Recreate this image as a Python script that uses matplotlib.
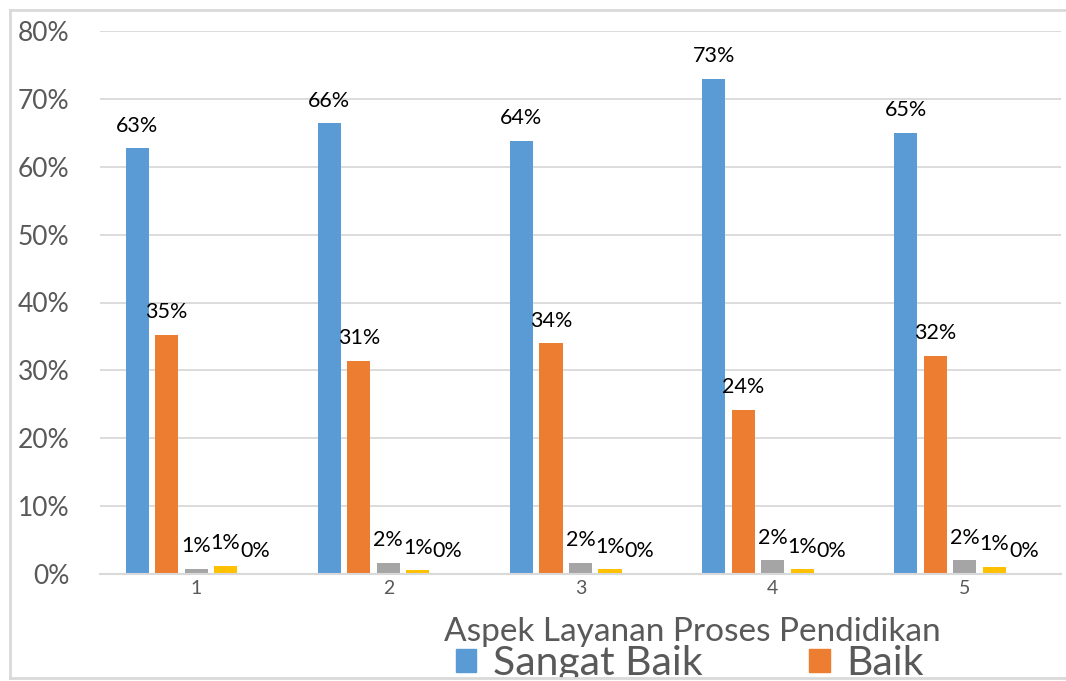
import matplotlib
matplotlib.use("Agg")
import matplotlib.pyplot as plt
from matplotlib.patches import Patch, Rectangle
from matplotlib.lines import Line2D
import numpy as np

plt.rcParams['font.family'] = ['Lato', 'DejaVu Sans']

# data
groups = ['1', '2', '3', '4', '5']
series_names = ['Sangat Baik', 'Baik', 'Cukup Baik', 'Kurang Baik', 'Tidak Baik']
sangat_baik = [0.627, 0.664, 0.638, 0.730, 0.650]
baik = [0.352, 0.314, 0.340, 0.242, 0.321]
cukup = [0.008, 0.016, 0.016, 0.020, 0.020]
kurang = [0.012, 0.0055, 0.007, 0.007, 0.011]
tidak = [0.0, 0.0, 0.0, 0.0, 0.0]
colors = ['#5B9BD5', '#ED7D31', '#A5A5A5', '#FFC000', '#4472C4']

W, H = 1066, 681
fig = plt.figure(figsize=(W / 100, H / 100), dpi=100)
ax = fig.add_axes([100 / W, (H - 574) / H, 961 / W, 543 / H])

x = np.arange(len(groups))
step = 0.1535
width = 0.12
all_series = [sangat_baik, baik, cukup, kurang, tidak]
for k, (vals, c) in enumerate(zip(all_series, colors)):
    pos = x + (k - 2) * step
    ax.bar(pos, vals, width=width, color=c, zorder=2)
    for px, v in zip(pos, vals):
        ax.annotate(f"{v:.0%}", (px, v), xytext=(0, 12), textcoords='offset points',
                    ha='center', va='baseline', fontsize=15.5, color='black', zorder=3)

ax.set_xlim(-0.5, len(groups) - 0.5)
ax.set_ylim(0, 0.8)
ax.set_yticks(np.arange(0, 0.81, 0.1))
ax.set_yticklabels([f"{int(round(t * 100))}%" for t in np.arange(0, 0.81, 0.1)])
ax.set_xticks(x)
ax.set_xticklabels(groups)
ax.tick_params(axis='y', length=0, pad=22, labelsize=19, labelcolor='#595959')
ax.tick_params(axis='x', length=0, pad=4, labelsize=14, labelcolor='#595959')
ax.grid(axis='y', color='#D9D9D9', lw=1.3, zorder=0)
ax.set_axisbelow(True)
for s in ['top', 'right', 'left']:
    ax.spines[s].set_visible(False)
ax.spines['bottom'].set_color('#D9D9D9')
ax.spines['bottom'].set_linewidth(1.5)

fig.text(692 / W, (H - 632) / H, 'Aspek Layanan Proses Pendidikan', ha='center', va='center',
         fontsize=24, color='#595959')

# legend fills column-first, so reorder to get Sangat Baik / Baik on the first row
order = [0, 2, 4, 1, 3]
handles = [Patch(color=colors[i]) for i in order]
labels = [series_names[i] for i in order]
fig.legend(handles, labels, ncol=2, loc='upper left',
           bbox_to_anchor=(456 / W, (H - 645) / H), frameon=False, fontsize=29.5,
           labelcolor='#595959', handlelength=0.5, handleheight=0.5,
           handletextpad=0.4, columnspacing=2.6, borderpad=0, borderaxespad=0)

# chart border, legend gets clipped at the bottom edge
fig.add_artist(Rectangle((0, 0), 1, 3 / H, transform=fig.transFigure,
                         color='white', zorder=20))
for xs, ys in [([10 / W, 10 / W], [3 / H, 1 - 10 / H]),
               ([10 / W, 1], [1 - 10 / H, 1 - 10 / H]),
               ([10 / W, 1], [3 / H, 3 / H])]:
    fig.add_artist(Line2D(xs, ys, transform=fig.transFigure, color='#D9D9D9',
                          lw=2, zorder=21))

fig.savefig('out.png', dpi=100)
